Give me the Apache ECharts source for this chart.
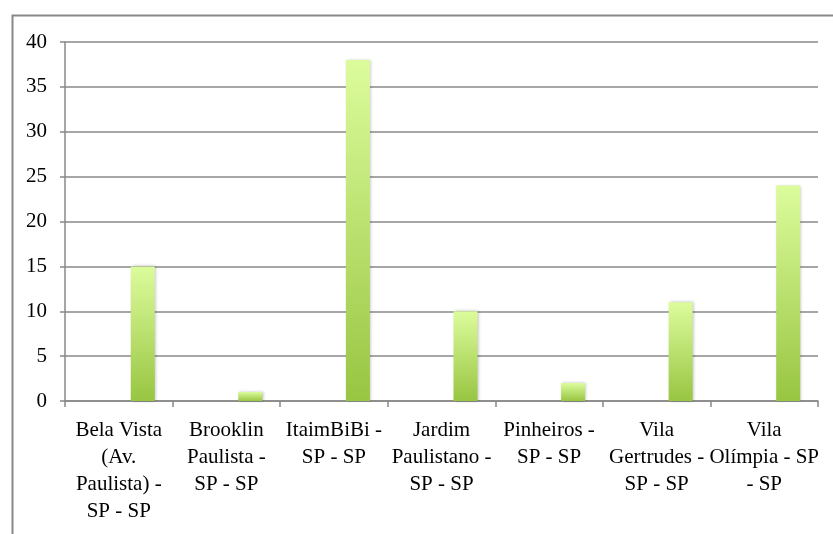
<!doctype html>
<html>
<head>
    <title>Bairros</title>
    <script src="https://cdn.jsdelivr.net/npm/echarts@6/dist/echarts.min.js"></script>
</head>
<style>
    html, body { margin: 0; padding: 0; background: #fff; }
    #chart { width: 833px; height: 534px; }
</style>
<body>
<div id="chart"></div>
<script>
  // tick labels, line breaks as in the original
  var categories = [
    'Bela Vista\n(Av.\nPaulista) -\nSP - SP',
    'Brooklin\nPaulista -\nSP - SP',
    'ItaimBiBi -\nSP - SP',
    'Jardim\nPaulistano -\nSP - SP',
    'Pinheiros -\nSP - SP',
    'Vila\nGertrudes -\nSP - SP',
    'Vila\nOlímpia - SP\n- SP'
  ];
  var values = [15, 1, 38, 10, 2, 11, 24];
  // the original has two empty series before the real one
  var emptyA = ['-', '-', '-', '-', '-', '-', '-'];
  var emptyB = ['-', '-', '-', '-', '-', '-', '-'];
  var yTicks = [0, 5, 10, 15, 20, 25, 30, 35, 40];

  var font = '"Liberation Serif", "DejaVu Serif", serif';
  var gray = '#888888';

  var myChart = echarts.init(document.getElementById('chart'));

  var barStyle = {
    color: new echarts.graphic.LinearGradient(0, 0, 0, 1, [
      { offset: 0, color: '#dcfc9c' },
      { offset: 1, color: '#98c542' }
    ]),
    shadowColor: 'rgba(0,0,0,0.25)',
    shadowBlur: 3,
    shadowOffsetX: 1
  };

  myChart.setOption({
    animation: false,
    graphic: [{
      type: 'rect',
      left: 10,
      top: 13,
      shape: { width: 900, height: 600 },
      style: { fill: 'none', stroke: gray, lineWidth: 2 },
      z: 0
    }],
    grid: { left: 65, right: 15, top: 42, bottom: 133 },
    xAxis: {
      type: 'category',
      data: categories,
      axisLine: { lineStyle: { color: gray, width: 1.5 } },
      axisTick: { show: true, length: 6, lineStyle: { color: gray, width: 1.5 } },
      axisLabel: {
        interval: 0,
        margin: 16,
        color: '#000',
        fontFamily: font,
        fontSize: 21,
        lineHeight: 27
      }
    },
    yAxis: {
      type: 'value',
      min: yTicks[0],
      max: yTicks[yTicks.length - 1],
      interval: 5,
      axisLine: { show: true, lineStyle: { color: gray, width: 1.5 } },
      axisTick: { show: true, length: 5, lineStyle: { color: gray, width: 1.5 } },
      splitLine: { lineStyle: { color: gray, width: 1.5 } },
      axisLabel: {
        margin: 18,
        color: '#000',
        fontFamily: font,
        fontSize: 21,
        padding: [4, 0, 0, 0]
      }
    },
    series: [
      { type: 'bar', data: emptyA, barWidth: 24, barGap: '0%' },
      { type: 'bar', data: emptyB, barWidth: 24, barGap: '0%' },
      { type: 'bar', data: values, barWidth: 24, barGap: '0%', itemStyle: barStyle }
    ]
  });
</script>
</body>
</html>
